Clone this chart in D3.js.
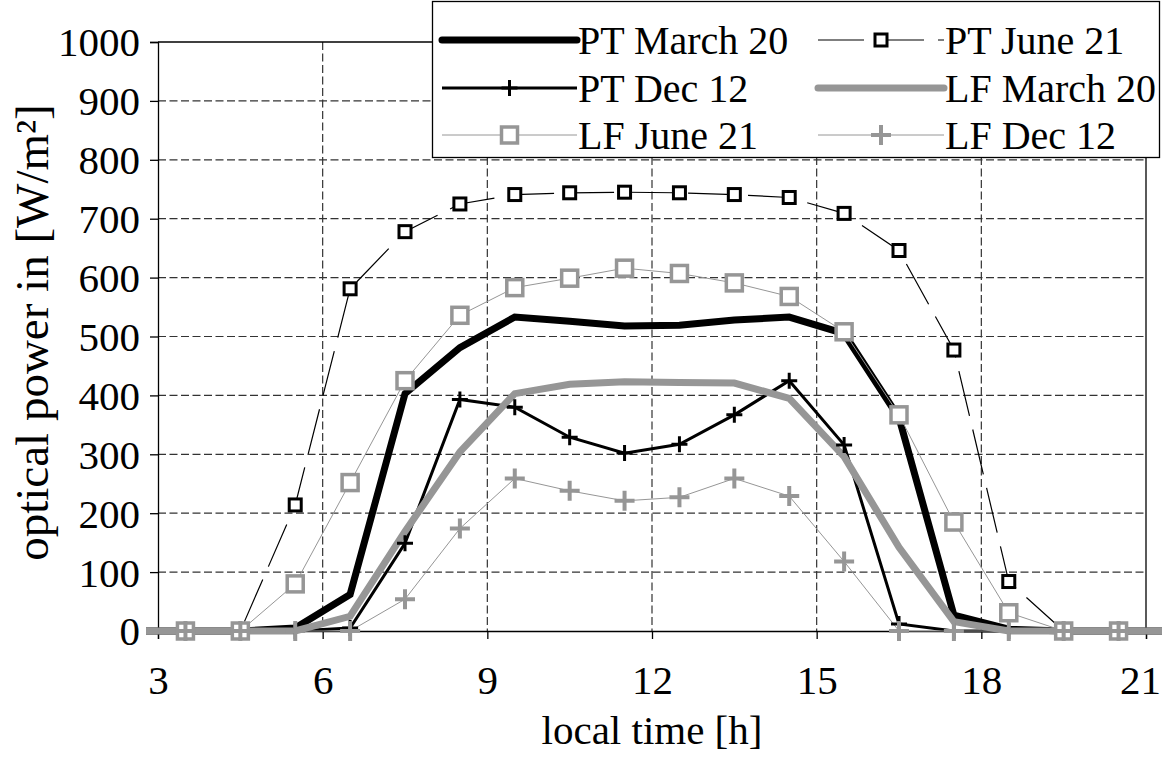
<!DOCTYPE html>
<html>
<head>
<meta charset="utf-8">
<script src="https://cdn.jsdelivr.net/npm/d3@7"></script>
<style>
  html, body { margin: 0; padding: 0; background: #fff; }
  svg { display: block; }
  text { font-family: "Liberation Serif", "Times New Roman", serif; fill: #000; }
</style>
</head>
<body>
<svg id="chart" width="1162" height="757" font-family="Liberation Serif, serif"></svg>
<script>
// ---- data ----
const hours = [2.5, 3.5, 4.5, 5.5, 6.5, 7.5, 8.5, 9.5, 10.5, 11.5, 12.5, 13.5, 14.5, 15.5, 16.5, 17.5, 18.5, 19.5, 20.5, 21.5];
const ptMarch = [0, 0, 0, 5, 62, 403, 481, 533, 526, 518, 519, 528, 533, 505, 362, 27, 3, 0, 0, 0];
const ptJune  = [0, 0, 0, 214, 581, 678, 725, 741, 744, 745, 744, 741, 736, 709, 646, 477, 84, 0, 0, 0];
const ptDec   = [0, 0, 0, 0, 5, 149, 393, 380, 329, 302, 317, 367, 425, 316, 12, 0, 0, 0, 0, 0];
const lfMarch = [0, 0, 0, 0, 25, 169, 304, 403, 419, 423, 422, 421, 395, 296, 142, 16, 0, 0, 0, 0];
const lfJune  = [0, 0, 0, 80, 252, 425, 536, 583, 599, 616, 607, 591, 568, 508, 367, 185, 31, 0, 0, 0];
const lfDec   = [0, 0, 0, 0, 0, 54, 174, 259, 238, 221, 227, 259, 229, 118, 0, 0, 0, 0, 0, 0];
const seriesNames = ["PT March 20", "PT June 21", "PT Dec 12", "LF March 20", "LF June 21", "LF Dec 12"];
const xTicks = [3, 6, 9, 12, 15, 18, 21];
const yTicks = [0, 100, 200, 300, 400, 500, 600, 700, 800, 900, 1000];
const xTitle = "local time [h]";
const yTitle = "optical power in [W/m²]";

// ---- styles ----
const GRAY = "#969696";
const styles = [
  { values: ptMarch, color: "#000", width: 7, dash: null, marker: null },
  { values: ptJune,  color: "#000", width: 1.2, dash: "46,14", marker: "square", mColor: "#000", mSize: 12, mStroke: 3 },
  { values: ptDec,   color: "#000", width: 3, dash: null, marker: "plus", mColor: "#000", mSize: 16, mStroke: 3 },
  { values: lfMarch, color: GRAY, width: 7, dash: null, marker: null },
  { values: lfJune,  color: GRAY, width: 1, dash: null, marker: "square", mColor: GRAY, mSize: 16, mStroke: 3.5 },
  { values: lfDec,   color: GRAY, width: 1, dash: null, marker: "plus", mColor: GRAY, mSize: 20, mStroke: 4 }
];

const svg = d3.select("#chart");
const L = 158, R = 1146, T = 42, B = 631;
const x = d3.scaleLinear().domain([3, 21]).range([L, R]);
const y = d3.scaleLinear().domain([0, 1000]).range([B, T]);
const FS = 41, LFS = 40, YFS = 47;
const FONT = '"Liberation Serif", "Times New Roman", serif';

const defs = svg.append("defs");
defs.append("clipPath").attr("id", "lineClip").append("rect")
  .attr("x", L - 12).attr("y", 0).attr("width", 1162 - (L - 12)).attr("height", B + 10);
defs.append("clipPath").attr("id", "markClip").append("rect")
  .attr("x", L - 10).attr("y", 0).attr("width", R - L + 20).attr("height", B + 12);

// gridlines
const grid = svg.append("g");
grid.selectAll("line.h").data(yTicks.filter(d => d > 0 && d < 1000)).join("line")
  .attr("x1", L).attr("x2", R).attr("y1", d => y(d)).attr("y2", d => y(d))
  .attr("stroke", "#333").attr("stroke-width", 1.2).attr("stroke-dasharray", "8,3.5");
grid.selectAll("line.v").data(xTicks.filter(d => d > 3 && d < 21)).join("line")
  .attr("x1", d => x(d)).attr("x2", d => x(d)).attr("y1", T).attr("y2", B)
  .attr("stroke", "#333").attr("stroke-width", 1.2).attr("stroke-dasharray", "8,3.5");

// plot frame (top and right)
svg.append("line").attr("x1", L).attr("x2", R).attr("y1", T).attr("y2", T).attr("stroke", "#000").attr("stroke-width", 1.3);
svg.append("line").attr("x1", R).attr("x2", R).attr("y1", T).attr("y2", B).attr("stroke", "#000").attr("stroke-width", 1.3);

// axes
const xAxis = d3.axisBottom(x).tickValues(xTicks).tickSize(8).tickPadding(26).tickFormat(d3.format("d"));
const yAxis = d3.axisLeft(y).tickValues(yTicks).tickSize(8).tickPadding(10).tickFormat(d3.format("d"));
const gx = svg.append("g").attr("transform", `translate(0,${B})`).call(xAxis);
const gy = svg.append("g").attr("transform", `translate(${L},0)`).call(yAxis);
[gx, gy].forEach(g => {
  g.attr("font-family", FONT);
  g.select(".domain").attr("stroke", "#000").attr("stroke-width", 1.3);
  g.selectAll(".tick line").attr("stroke", "#000").attr("stroke-width", 1.3);
  g.selectAll(".tick text").style("font-family", FONT)
    .style("font-size", FS + "px").attr("fill", "#000");
});
gy.selectAll(".tick text").attr("dy", "0.34em");
gx.selectAll(".tick text").filter(d => d === 21).attr("dx", -6);

// axis titles
svg.append("text").attr("x", (L + R) / 2).attr("y", 744).attr("text-anchor", "middle")
  .style("font-family", FONT).style("font-size", FS + "px").text(xTitle);
svg.append("text").attr("transform", `translate(48,${(T + B) / 2 - 4}) rotate(-90)`).attr("text-anchor", "middle")
  .style("font-family", FONT).style("font-size", YFS + "px").text(yTitle);

// lines
const line = d3.line().x((d, i) => x(hours[i])).y(d => y(d));
const linesG = svg.append("g").attr("clip-path", "url(#lineClip)");
styles.forEach(s => {
  linesG.append("path").datum(s.values).attr("d", line)
    .attr("fill", "none").attr("stroke", s.color).attr("stroke-width", s.width)
    .attr("stroke-linejoin", "miter").attr("stroke-dasharray", s.dash);
});

// markers
function drawMarker(g, s, cx, cy) {
  const h = s.mSize / 2;
  if (s.marker === "square") {
    g.append("rect").attr("x", cx - h).attr("y", cy - h).attr("width", s.mSize).attr("height", s.mSize)
      .attr("fill", "#fff").attr("stroke", s.mColor).attr("stroke-width", s.mStroke);
  } else if (s.marker === "plus") {
    g.append("path").attr("d", `M${cx - h},${cy}H${cx + h}M${cx},${cy - h}V${cy + h}`)
      .attr("fill", "none").attr("stroke", s.mColor).attr("stroke-width", s.mStroke);
  }
}
const marksG = svg.append("g").attr("clip-path", "url(#markClip)");
styles.forEach(s => {
  if (!s.marker) return;
  s.values.forEach((v, i) => drawMarker(marksG, s, x(hours[i]), y(v)));
});

// legend
const lg = svg.append("g");
lg.append("rect").attr("x", 432.5).attr("y", 1.5).attr("width", 727).attr("height", 156)
  .attr("fill", "#fff").attr("stroke", "#000").attr("stroke-width", 1.3);
const rowsY = [40, 88, 135];
const cols = [{ x1: 442, x2: 577, tx: 578 }, { x1: 818, x2: 944, tx: 945 }];
seriesNames.forEach((name, i) => {
  const s = styles[i];
  const c = cols[i % 2], ry = rowsY[Math.floor(i / 2)];
  lg.append("line").attr("x1", c.x1).attr("x2", c.x2).attr("y1", ry).attr("y2", ry)
    .attr("stroke", s.color).attr("stroke-width", s.width).attr("stroke-dasharray", s.dash)
    .attr("stroke-linecap", s.width >= 5 ? "round" : "butt");
  if (s.marker) drawMarker(lg, s, (c.x1 + c.x2) / 2, ry);
  lg.append("text").attr("x", c.tx).attr("y", ry).attr("dy", "0.34em")
    .style("font-family", FONT).style("font-size", LFS + "px").text(name);
});
</script>
</body>
</html>
